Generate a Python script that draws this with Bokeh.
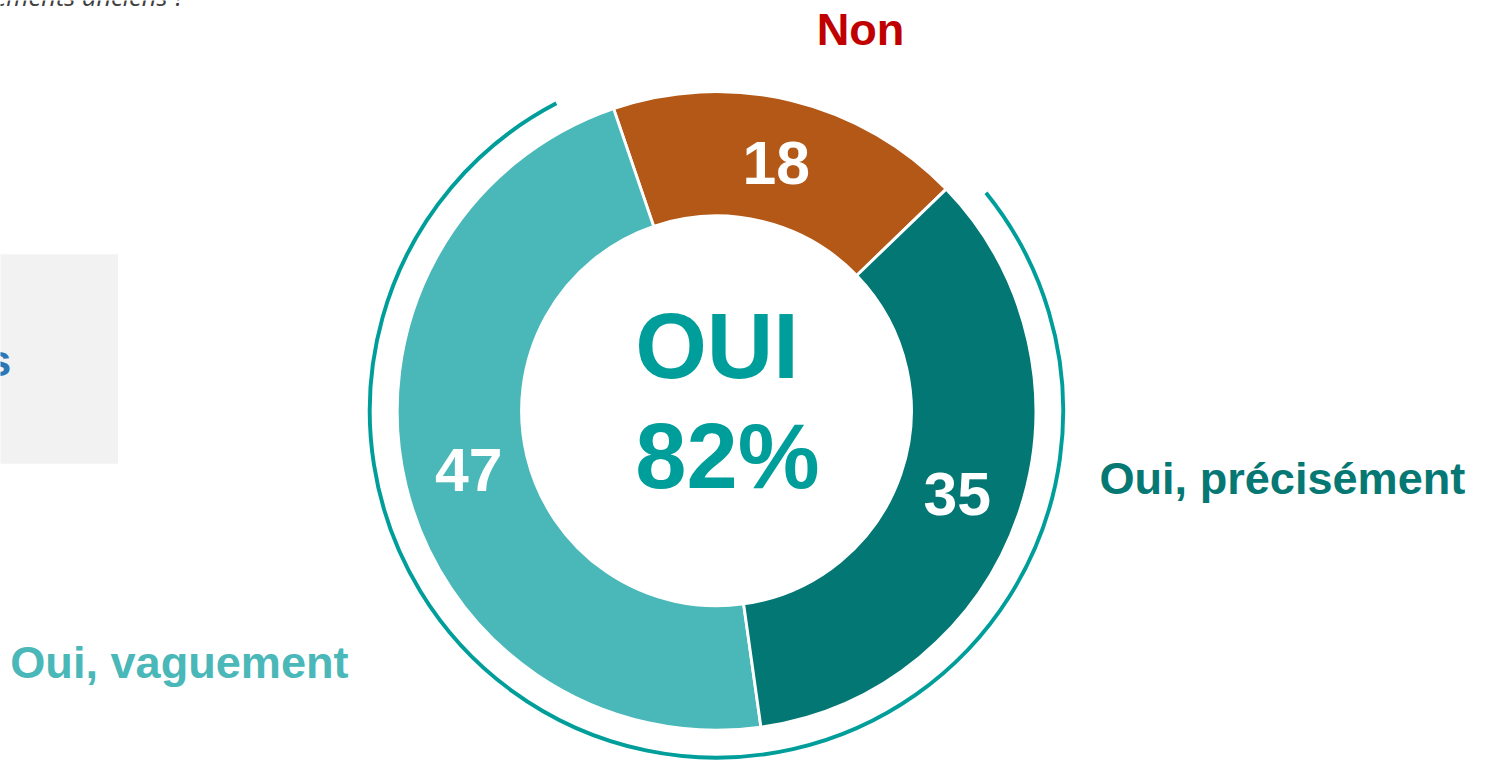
import math
from bokeh.plotting import figure
from bokeh.models import Range1d
from bokeh.core.properties import value
from bokeh.embed import file_html
from bokeh.resources import INLINE

# ---- data ----
categories = ["Non", "Oui, vaguement", "Oui, précisément"]
values = [18, 47, 35]
slice_colors = ["#B45817", "#4AB8B9", "#037773"]
label_colors = ["#C00000", "#4AB8B9", "#057874"]
center_title = "OUI"
center_value = "82%"
question_tail = "ements anciens ?"
box_text = "s"

W, H = 1495, 763
REF_W, REF_H = 1511, 779
S = H / REF_H  # uniform scale so that the whole reference layout fits

p = figure(width=W, height=H, output_backend="svg", toolbar_location=None,
           x_range=Range1d(0, W / S), y_range=Range1d(0, REF_H),
           min_border=0, outline_line_color=None)
p.axis.visible = False
p.grid.visible = False
p.background_fill_color = "white"
p.border_fill_color = "white"


def Y(sy):
    return REF_H - sy


def fs(px):
    return "%.1fpx" % (px * S)


cx, cy = 731, Y(419)
r_in, r_out, r_arc = 199, 326, 354

# angles (anticlockwise from Non start)
start0 = math.radians(44)
total = sum(values)
starts, ends = [], []
a = start0
for v in values:
    starts.append(a)
    a += v / total * 2 * math.pi
    ends.append(a)

# grey box left
p.quad(left=-20, right=120, top=Y(259), bottom=Y(473), fill_color="#F2F2F2", line_color=None)
p.text(x=[11], y=[Y(368)], text=[box_text], text_align="right", text_baseline="middle",
       text_font=value("Liberation Sans"), text_font_style="bold", text_font_size=fs(46),
       text_color="#2E75B6")

# italic question tail at top-left (cut by the top edge, as in the reference)
p.text(x=[-7], y=[Y(-5)], text=[question_tail], text_align="left", text_baseline="alphabetic",
       text_font=value("Open Sans"), text_font_style="italic", text_font_size=fs(26),
       text_color="#404040")

# donut
p.annular_wedge(x=[cx] * 3, y=[cy] * 3, inner_radius=r_in, outer_radius=r_out,
                start_angle=starts, end_angle=ends, direction="anticlock",
                fill_color=slice_colors, line_color="white", line_width=3 * S)

# outer arc around the "Oui" portion
gap_a = math.radians(8.7)
gap_b = math.radians(5)
p.arc(x=[cx], y=[cy], radius=r_arc,
      start_angle=ends[0] + gap_a, end_angle=starts[0] + 2 * math.pi - gap_b,
      direction="anticlock", line_color="#009E9A", line_width=4 * S)

# slice values
r_lab = 260
for s, e, v in zip(starts, ends, values):
    m = (s + e) / 2
    p.text(x=[cx + r_lab * math.cos(m)], y=[cy + r_lab * math.sin(m)], text=[str(v)],
           text_align="center", text_baseline="middle",
           text_font=value("Liberation Sans"), text_font_style="bold",
           text_font_size=fs(62), text_color="white")

# center text
p.text(x=[648], y=[Y(353)], text=[center_title], text_align="left", text_baseline="middle",
       text_font=value("Liberation Sans"), text_font_style="bold", text_font_size=fs(94),
       text_color="#009E9A")
p.text(x=[648], y=[Y(466)], text=[center_value], text_align="left", text_baseline="middle",
       text_font=value("Liberation Sans"), text_font_style="bold", text_font_size=fs(94),
       text_color="#009E9A")

# category labels
lab_x = [878, 10, 1122]
lab_y = [Y(30), Y(676), Y(488)]
lab_align = ["center", "left", "left"]
for i in range(3):
    p.text(x=[lab_x[i]], y=[lab_y[i]], text=[categories[i]], text_align=lab_align[i],
           text_baseline="middle", text_font=value("Liberation Sans"), text_font_style="bold",
           text_font_size=fs(46), text_color=label_colors[i])

open("out.html", "w").write(file_html(p, INLINE))
